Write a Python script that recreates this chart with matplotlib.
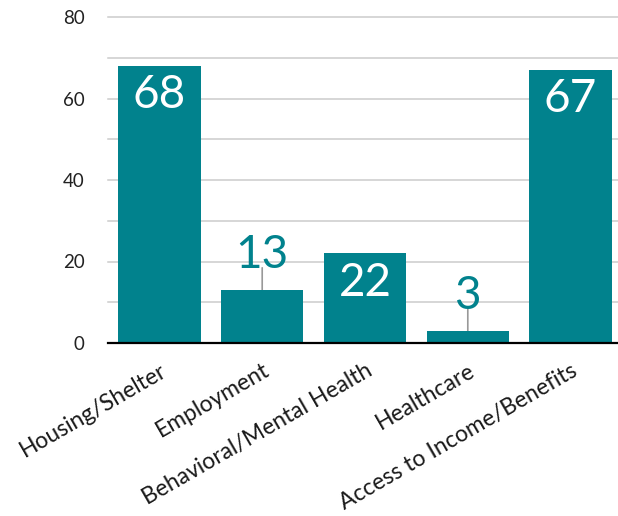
import matplotlib
matplotlib.use("Agg")
import matplotlib.pyplot as plt

categories = ["Housing/Shelter", "Employment", "Behavioral/Mental Health",
              "Healthcare", "Access to Income/Benefits"]
values = [68, 13, 22, 3, 67]
y_ticks = [0, 20, 40, 60, 80]
minor_ticks = [10, 30, 50, 70]

TEAL = "#01828D"
FONT = "Lato"

fig = plt.figure(figsize=(6.18, 5.16), dpi=100)
ax = fig.add_axes([108/618, 1 - 343/516, 514/618, 326/516])

x = list(range(len(categories)))
bars = ax.bar(x, values, width=0.8, color=TEAL, zorder=3)

ax.set_xlim(-0.5, len(categories) - 0.5)
ax.set_ylim(0, 80)
ax.set_yticks(y_ticks)
ax.set_yticks(minor_ticks, minor=True)
for v in y_ticks + minor_ticks:
    if v == 0:
        continue
    ax.axhline(v, color="#cccccc", lw=1.1, zorder=1, clip_on=False)
ax.axhline(0, color="black", lw=1.6, zorder=4, clip_on=False)

for s in ax.spines.values():
    s.set_visible(False)
ax.tick_params(axis="y", which="both", length=0, pad=17, labelsize=13.5,
               labelcolor="#222222")
ax.tick_params(axis="x", length=0, pad=12)
for lab in ax.get_yticklabels():
    lab.set_fontfamily(FONT)

ax.set_xticks(x)
ax.set_xticklabels(categories, rotation=30, ha="right", va="top",
                   rotation_mode="anchor", fontsize=16.5, fontfamily=FONT,
                   color="#1a1a1a")

for xi, v in zip(x, values):
    if v >= 20:
        ax.annotate(str(v), (xi, v), xytext=(0, -6), textcoords="offset points",
                    ha="center", va="top", color="white", fontsize=33,
                    fontfamily=FONT, zorder=5)
    else:
        ax.annotate(str(v), (xi, v), xytext=(0, 16), textcoords="offset points",
                    ha="center", va="baseline", color=TEAL, fontsize=33,
                    fontfamily=FONT, zorder=5)
        ax.annotate("", (xi, v), xytext=(0, 16), textcoords="offset points",
                    arrowprops=dict(arrowstyle="-", color="#999999", lw=1.2,
                                    shrinkA=0, shrinkB=0), zorder=2)

fig.savefig("out.png", dpi=100)
